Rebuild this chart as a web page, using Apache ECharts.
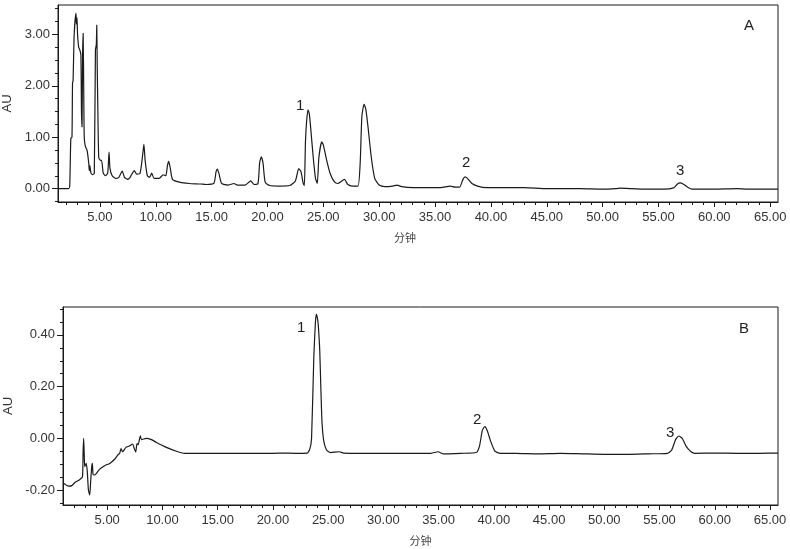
<!DOCTYPE html>
<html>
<head>
<meta charset="utf-8">
<script src="https://cdn.jsdelivr.net/npm/echarts@6/dist/echarts.min.js"></script>
<style>
html,body{margin:0;padding:0;background:#fff;}
#chart{width:790px;height:549px;}
</style>
</head>
<body>
<div id="chart"></div>
<script>
// ---- Data (time in minutes, absorbance in AU) ----
const chromA = [
[1.25,0.0],[2.2,0.0],[2.3,0.05],[2.4,0.98],[2.5,1.0],[2.55,2.05],[2.6,2.1],[2.7,3.0],[2.86,3.41],[2.9,3.2],[2.95,3.32],[3.0,3.0],[3.1,2.75],[3.2,2.7],[3.3,2.6],[3.35,1.5],[3.4,1.2],[3.45,2.6],[3.5,3.02],[3.55,2.0],[3.6,1.0],[3.7,0.82],[3.85,0.75],[4.0,0.5],[4.05,0.35],[4.1,0.45],[4.2,0.3],[4.35,0.27],[4.5,0.3],[4.6,2.7],[4.68,2.8],[4.72,3.18],[4.76,2.4],[4.82,1.5],[4.9,0.6],[5.05,0.55],[5.15,0.55],[5.3,0.3],[5.5,0.25],[5.7,0.3],[5.82,0.71],[5.9,0.4],[6.1,0.25],[6.4,0.2],[6.7,0.22],[7.0,0.34],[7.2,0.22],[7.5,0.18],[7.7,0.22],[8.08,0.35],[8.3,0.28],[8.6,0.3],[8.85,0.7],[8.94,0.86],[9.05,0.55],[9.25,0.25],[9.45,0.22],[9.64,0.30],[9.85,0.2],[10.3,0.2],[10.67,0.27],[10.9,0.25],[11.05,0.45],[11.16,0.53],[11.3,0.4],[11.5,0.18],[12.2,0.12],[13,0.1],[14,0.09],[14.5,0.08],[15.2,0.1],[15.4,0.33],[15.51,0.38],[15.65,0.3],[15.9,0.1],[16.5,0.07],[17.0,0.1],[17.3,0.07],[18.0,0.07],[18.5,0.15],[18.8,0.08],[19.15,0.1],[19.3,0.5],[19.45,0.62],[19.6,0.5],[19.8,0.12],[20.2,0.06],[21,0.05],[22,0.06],[22.5,0.15],[22.8,0.39],[23.0,0.33],[23.2,0.1],[23.3,0.06],[23.4,0.9],[23.5,1.3],[23.63,1.53],[23.75,1.45],[23.9,1.1],[24.1,0.6],[24.3,0.2],[24.46,0.1],[24.6,0.6],[24.86,0.91],[25.0,0.85],[25.3,0.55],[25.6,0.3],[26.0,0.13],[26.3,0.1],[26.6,0.14],[26.88,0.18],[27.2,0.08],[27.6,0.05],[28.1,0.05],[28.3,0.5],[28.45,1.4],[28.65,1.64],[28.8,1.55],[29.0,1.2],[29.3,0.6],[29.6,0.2],[30.0,0.07],[30.5,0.04],[31.2,0.05],[31.6,0.07],[32.0,0.04],[33,0.02],[34,0.02],[35.5,0.02],[36.35,0.05],[36.8,0.03],[37.2,0.03],[37.5,0.18],[37.69,0.23],[37.9,0.2],[38.3,0.1],[38.8,0.05],[39.6,0.02],[41,0.02],[43,0.02],[45,0.0],[47,0.0],[48,0.0],[50,-0.01],[51.2,0.0],[51.6,0.01],[52.5,0.0],[54,-0.01],[55.5,-0.01],[56.4,0.02],[56.7,0.09],[56.94,0.11],[57.2,0.09],[57.6,0.03],[58,-0.01],[60,-0.01],[62,0.0],[63,-0.01],[65.7,-0.01]
];
const chromB = [
[1.0,-0.172],[1.5,-0.185],[1.8,-0.183],[2.1,-0.17],[2.5,-0.16],[2.76,-0.149],[2.82,-0.05],[2.87,0.0],[2.92,-0.06],[2.97,-0.11],[3.1,-0.097],[3.2,-0.13],[3.3,-0.2],[3.42,-0.219],[3.5,-0.17],[3.6,-0.11],[3.66,-0.097],[3.72,-0.14],[3.85,-0.142],[4.3,-0.12],[4.8,-0.105],[5.23,-0.097],[5.7,-0.08],[6.0,-0.062],[6.13,-0.058],[6.25,-0.04],[6.4,-0.052],[6.7,-0.035],[7.0,-0.03],[7.3,-0.022],[7.45,-0.04],[7.58,-0.053],[7.7,-0.02],[7.8,-0.025],[8.0,0.01],[8.1,-0.005],[8.55,0.0],[9.0,-0.005],[9.46,-0.016],[10.36,-0.035],[11.27,-0.05],[12.0,-0.058],[14,-0.058],[16,-0.058],[18,-0.058],[20,-0.058],[21,-0.057],[22,-0.058],[23.1,-0.057],[23.35,-0.04],[23.5,0.0],[23.7,0.31],[23.85,0.45],[23.94,0.48],[24.05,0.46],[24.12,0.43],[24.24,0.34],[24.35,0.18],[24.45,0.058],[24.6,-0.01],[24.85,-0.045],[25.2,-0.055],[26,-0.052],[26.4,-0.057],[28,-0.058],[30,-0.058],[32,-0.058],[34.3,-0.058],[34.95,-0.052],[35.4,-0.06],[37,-0.058],[38.4,-0.055],[38.7,-0.03],[38.95,0.03],[39.18,0.045],[39.4,0.03],[39.7,-0.01],[40.1,-0.05],[40.6,-0.058],[42,-0.058],[44,-0.06],[46,-0.058],[48,-0.06],[50,-0.062],[52,-0.062],[54,-0.06],[55.7,-0.058],[56.1,-0.045],[56.45,-0.005],[56.75,0.009],[57.05,0.0],[57.4,-0.03],[57.8,-0.05],[58.2,-0.058],[60,-0.057],[62,-0.058],[64,-0.058],[65.72,-0.057]
];
const xMajorTicks = [5,10,15,20,25,30,35,40,45,50,55,60,65];
const xMinorTicks = [2,3,4,6,7,8,9,11,12,13,14,16,17,18,19,21,22,23,24,26,27,28,29,31,32,33,34,36,37,38,39,41,42,43,44,46,47,48,49,51,52,53,54,56,57,58,59,61,62,63,64];
const yMajorTicksA = [0,1,2,3];
const yMinorTicksA = [-0.25,0.25,0.5,0.75,1.25,1.5,1.75,2.25,2.5,2.75,3.25,3.5];
const yMajorTicksB = [-0.2,0,0.2,0.4];
const yMinorTicksB = [-0.25,-0.15,-0.1,-0.05,0.05,0.1,0.15,0.25,0.3,0.35,0.45,0.5];
const xAxisTitle = '分钟';
const yAxisTitle = 'AU';
const peakLabels = ['1','2','3'];
const panelLabels = ['A','B'];

const LINE = '#1a1a1a';
const TXT = '#333';
const FONT = 'Liberation Sans, Arial, sans-serif';

function majorX(grid, min, max, nameOpts) {
  return {
    type:'value', gridIndex:grid, min:min, max:max, position:'bottom',
    axisLine:{show:true, onZero:false, lineStyle:{color:LINE,width:1}},
    axisTick:{show:true, customValues:xMajorTicks, length:5, lineStyle:{color:LINE}},
    axisLabel:{customValues:xMajorTicks, formatter:v=>v.toFixed(2), color:TXT, fontFamily:FONT, fontSize:13, margin:9},
    splitLine:{show:false},
    name:xAxisTitle, nameLocation:'middle', nameGap:nameOpts.gap,
    nameTextStyle:Object.assign({color:'#444', fontFamily:'Noto Sans CJK SC', fontSize:11}, nameOpts.style||{})
  };
}
function minorX(grid, min, max) {
  return {
    type:'value', gridIndex:grid, min:min, max:max, position:'bottom', offset:0,
    axisLine:{show:false, onZero:false},
    axisTick:{show:true, customValues:xMinorTicks, length:3, lineStyle:{color:LINE}},
    axisLabel:{show:false}, splitLine:{show:false}
  };
}
function majorY(grid, min, max, ticks, gap) {
  return {
    type:'value', gridIndex:grid, min:min, max:max, position:'left',
    axisLine:{show:true, onZero:false, lineStyle:{color:LINE,width:1}},
    axisTick:{show:true, customValues:ticks, length:6, lineStyle:{color:LINE}},
    axisLabel:{customValues:ticks, formatter:v=>v.toFixed(2), color:TXT, fontFamily:FONT, fontSize:13, margin:8},
    splitLine:{show:false},
    name:yAxisTitle, nameLocation:'middle', nameRotate:90, nameGap:gap,
    nameTextStyle:{color:TXT, fontFamily:FONT, fontSize:13}
  };
}
function minorY(grid, min, max, ticks) {
  return {
    type:'value', gridIndex:grid, min:min, max:max, position:'left', offset:0,
    axisLine:{show:false, onZero:false},
    axisTick:{show:true, customValues:ticks, length:3, lineStyle:{color:LINE}},
    axisLabel:{show:false}, splitLine:{show:false}
  };
}

const chart = echarts.init(document.getElementById('chart'), null, {renderer:'canvas'});
const textStyle = {fill:'#222', font:'15px Liberation Sans'};
chart.setOption({
  animation:false,
  backgroundColor:'#fff',
  grid:[
    {left:58, top:5, width:720, height:197, show:true, borderColor:LINE, borderWidth:1, outerBoundsMode:'none', containLabel:false},
    {left:63, top:307, width:715, height:198, show:true, borderColor:LINE, borderWidth:1, outerBoundsMode:'none', containLabel:false}
  ],
  xAxis:[
    majorX(0, 1.25, 65.7, {gap:30, style:{padding:[0,26,0,0]}}),
    minorX(0, 1.25, 65.7),
    majorX(1, 1.0, 65.72, {gap:30}),
    minorX(1, 1.0, 65.72)
  ],
  yAxis:[
    majorY(0, -0.26, 3.57, yMajorTicksA, 42),
    minorY(0, -0.26, 3.57, yMinorTicksA),
    majorY(1, -0.258, 0.508, yMajorTicksB, 48),
    minorY(1, -0.258, 0.508, yMinorTicksB)
  ],
  series:[
    {type:'line', xAxisIndex:0, yAxisIndex:0, data:chromA, showSymbol:false, smooth:0.2,
     lineStyle:{color:LINE, width:1.2}},
    {type:'line', xAxisIndex:2, yAxisIndex:2, data:chromB, showSymbol:false, smooth:0.2,
     lineStyle:{color:LINE, width:1.2}}
  ],
  graphic:[
    {type:'text', left:744, top:18, style:Object.assign({text:panelLabels[0]}, textStyle)},
    {type:'text', left:739, top:321, style:Object.assign({text:panelLabels[1]}, textStyle)},
    {type:'text', left:296, top:98, style:Object.assign({text:peakLabels[0]}, textStyle)},
    {type:'text', left:462, top:155, style:Object.assign({text:peakLabels[1]}, textStyle)},
    {type:'text', left:676, top:163, style:Object.assign({text:peakLabels[2]}, textStyle)},
    {type:'text', left:297, top:320, style:Object.assign({text:peakLabels[0]}, textStyle)},
    {type:'text', left:473, top:412, style:Object.assign({text:peakLabels[1]}, textStyle)},
    {type:'text', left:666, top:425, style:Object.assign({text:peakLabels[2]}, textStyle)}
  ]
});
</script>
</body>
</html>
